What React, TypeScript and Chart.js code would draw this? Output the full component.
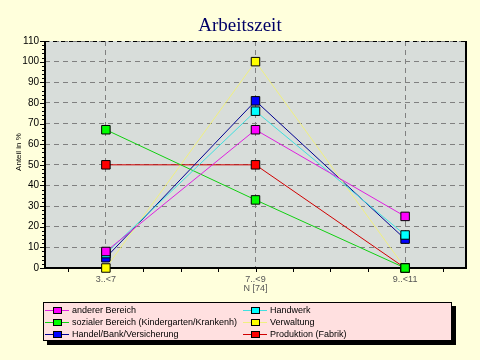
import React, { useEffect, useRef } from "react";
import { Chart, registerables } from "chart.js";

Chart.register(...registerables);

const categories = ["3..<7", "7..<9", "9..<11"];
const subLabels = ["", "N [74]", ""];
const yTicks = [0, 10, 20, 30, 40, 50, 60, 70, 80, 90, 100, 110];

const seriesNames = [
  "anderer Bereich",
  "Handwerk",
  "sozialer Bereich (Kindergarten/Krankenh)",
  "Verwaltung",
  "Handel/Bank/Versicherung",
  "Produktion (Fabrik)",
];
const anderer = [8, 67, 25];
const handwerk = [7, 76, 16];
const sozialer = [67, 33, 0];
const verwaltung = [0, 100, 0];
const handel = [5, 81, 14];
const produktion = [50, 50, 0];

const lineColors = ["#e020e0", "#40e0e0", "#10d010", "#f0f080", "#000090", "#d00000"];
const markerColors = ["#ff00ff", "#00ffff", "#00ff00", "#ffff00", "#0000ff", "#ff0000"];

const PAGE_BG = "#ffffdc";
const PLOT_BG = "#d8ddda";
const LEGEND_BG = "#ffe0e0";

const decorPlugin = {
  id: "decor",
  beforeDraw(chart: any) {
    const { ctx, chartArea: a } = chart;
    ctx.save();
    ctx.fillStyle = PAGE_BG;
    ctx.fillRect(0, 0, chart.width, chart.height);
    ctx.fillStyle = PLOT_BG;
    ctx.fillRect(a.left, a.top, a.right - a.left, a.bottom - a.top);
    ctx.restore();
  },
  beforeDatasetsDraw(chart: any) {
    const { ctx, chartArea: a } = chart;
    const xs = chart.scales.x;
    const ys = chart.scales.y;
    ctx.save();
    ctx.strokeStyle = "#000000";
    ctx.lineWidth = 1;
    ctx.setLineDash([4, 4]);
    ctx.beginPath();
    ctx.moveTo(a.left, a.top + 0.5);
    ctx.lineTo(a.right, a.top + 0.5);
    ctx.stroke();
    ctx.setLineDash([]);
    ctx.lineWidth = 2;
    ctx.beginPath();
    ctx.moveTo(a.left, a.top);
    ctx.lineTo(a.left, a.bottom);
    ctx.lineTo(a.right, a.bottom);
    ctx.lineTo(a.right, a.top);
    ctx.stroke();
    ctx.lineWidth = 1;
    for (let v = 0; v <= 110; v += 2) {
      const y = Math.round(ys.getPixelForValue(v)) + 0.5;
      const len = v % 10 === 0 ? 4 : 2;
      ctx.beginPath();
      ctx.moveTo(a.left - 1 - len, y);
      ctx.lineTo(a.left - 1, y);
      ctx.stroke();
    }
    for (let v = -0.25; v <= 2.26; v += 0.25) {
      const x = Math.round(xs.getPixelForValue(v)) + 0.5;
      ctx.beginPath();
      ctx.moveTo(x, a.bottom + 1);
      ctx.lineTo(x, a.bottom + 4);
      ctx.stroke();
    }
    ctx.restore();
  },
  afterDraw(chart: any) {
    const { ctx } = chart;
    ctx.save();
    ctx.fillStyle = "#000066";
    ctx.font = '19px "Liberation Serif"';
    ctx.textAlign = "center";
    ctx.textBaseline = "alphabetic";
    ctx.fillText("Arbeitszeit", 240, 31);
    ctx.save();
    ctx.translate(19, 152);
    ctx.rotate(-Math.PI / 2);
    ctx.fillStyle = "#000000";
    ctx.font = '8px "Liberation Sans"';
    ctx.textBaseline = "middle";
    ctx.fillText("Anteil in %", 0, 0);
    ctx.restore();
    const bx = 43, by = 302, bw = 409, bh = 39;
    ctx.fillStyle = "#000000";
    ctx.fillRect(bx + 4, by + 4, bw, bh);
    ctx.fillStyle = LEGEND_BG;
    ctx.fillRect(bx, by, bw, bh);
    ctx.strokeStyle = "#000000";
    ctx.lineWidth = 1;
    ctx.strokeRect(bx + 0.5, by + 0.5, bw - 1, bh - 1);
    const colX = [45, 243];
    const rowY = [310, 322, 334];
    ctx.font = '9px "Liberation Sans"';
    ctx.textAlign = "left";
    ctx.textBaseline = "middle";
    chart.data.datasets.forEach((ds: any, i: number) => {
      const x = colX[i % 2];
      const y = rowY[Math.floor(i / 2)];
      ctx.strokeStyle = ds.borderColor;
      ctx.beginPath();
      ctx.moveTo(x, y + 0.5);
      ctx.lineTo(x + 24, y + 0.5);
      ctx.stroke();
      ctx.fillStyle = ds.pointBackgroundColor;
      ctx.fillRect(x + 8, y - 2, 9, 6);
      ctx.strokeStyle = "#000000";
      ctx.strokeRect(x + 8.5, y - 2.5, 8, 6);
      ctx.fillStyle = "#000000";
      ctx.fillText(ds.label, x + 27, y + 1);
    });
    ctx.restore();
  },
};

export default function App() {
  const ref = useRef<HTMLCanvasElement>(null);
  useEffect(() => {
    document.body.style.margin = "0";
    document.body.style.background = PAGE_BG;
    const series = [anderer, handwerk, sozialer, verwaltung, handel, produktion];
    const chart = new Chart(ref.current!, {
      type: "line",
      data: {
        datasets: series.map((vals, i) => ({
          label: seriesNames[i],
          data: vals.map((v, j) => ({ x: j, y: v })),
          borderColor: lineColors[i],
          backgroundColor: markerColors[i],
          pointBackgroundColor: markerColors[i],
          pointBorderColor: "#000000",
          pointBorderWidth: 1,
          pointStyle: "rect",
          pointRadius: 6,
          borderWidth: 1,
          tension: 0,
          clip: false,
        })),
      },
      options: {
        responsive: false,
        animation: false,
        layout: { padding: { top: 41, right: 14, left: 0, bottom: 0 } },
        plugins: { legend: { display: false }, title: { display: false }, tooltip: { enabled: false } },
        scales: {
          x: {
            type: "linear",
            min: -0.407,
            max: 2.407,
            afterFit: (s: any) => { s.height = 92; },
            afterBuildTicks: (s: any) => { s.ticks = categories.map((_, i) => ({ value: i })); },
            ticks: {
              callback: (v: any) => {
                const i = Math.round(Number(v));
                return subLabels[i] ? [categories[i], subLabels[i]] : categories[i];
              },
              color: "#555555",
              font: { family: "Liberation Sans", size: 9, lineHeight: 1.0 },
              padding: 7,
              maxRotation: 0,
              autoSkip: false,
            },
            grid: { color: "#808080", drawTicks: false, lineWidth: 1 },
            border: { display: false, dash: [5, 4] },
          },
          y: {
            min: 0,
            max: 110,
            afterFit: (s: any) => { s.width = 45; },
            afterBuildTicks: (s: any) => { s.ticks = yTicks.map((v) => ({ value: v })); },
            ticks: {
              color: "#000000",
              font: { family: "Liberation Sans", size: 10 },
              padding: 6,
            },
            grid: { color: "#808080", drawTicks: false, lineWidth: 1 },
            border: { display: false, dash: [5, 4] },
          },
        },
      },
      plugins: [decorPlugin],
    });
    return () => chart.destroy();
  }, []);
  return (
    <div style={{ width: 480, height: 360 }}>
      <canvas ref={ref} width={480} height={360} style={{ display: "block" }} />
    </div>
  );
}
